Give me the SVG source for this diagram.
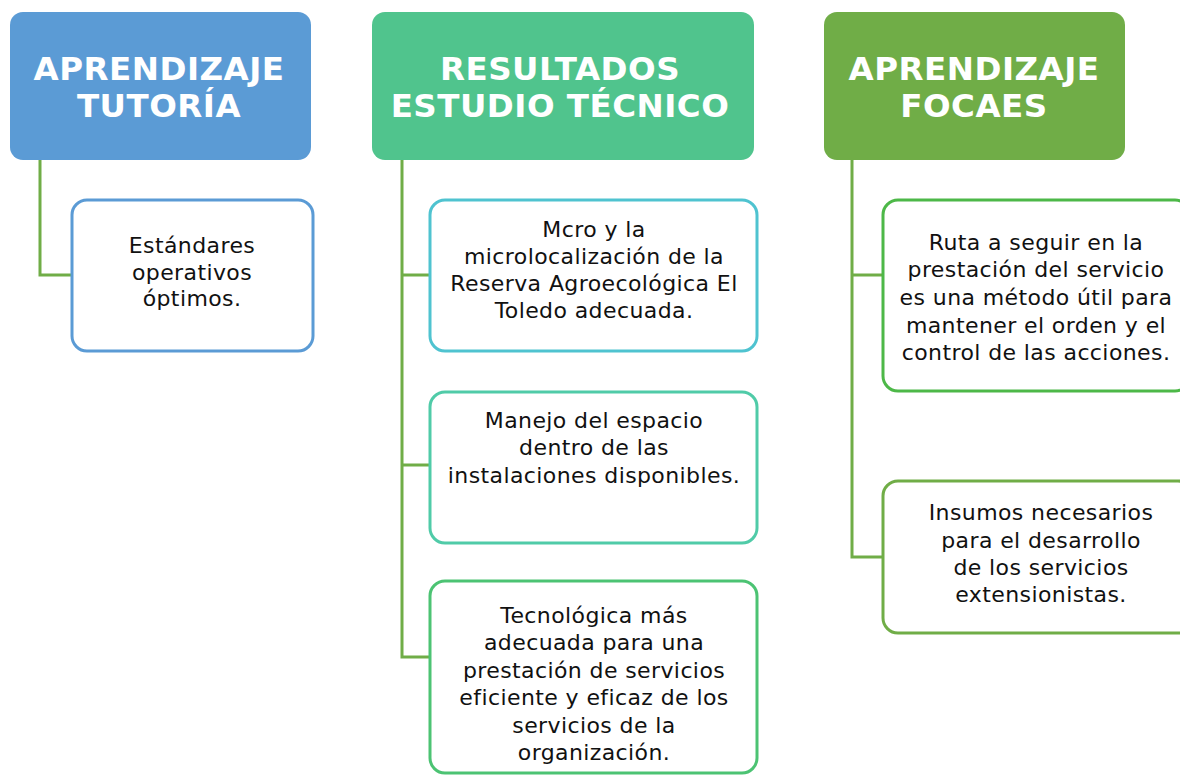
<svg xmlns="http://www.w3.org/2000/svg" width="1180" height="775" viewBox="0 0 1180 775">
<style>
.hdr{stroke:none}
.hdr-t{font-family:"DejaVu Sans","Liberation Sans",sans-serif;font-weight:bold;font-size:32.5px;letter-spacing:0.5px;fill:#fff;text-anchor:middle}
.box{fill:#fff;stroke-width:3}
.t{font-family:"DejaVu Sans","Liberation Sans",sans-serif;font-size:22px;letter-spacing:0.4px;fill:#111;text-anchor:middle}
.conn{fill:none;stroke:#70AD47;stroke-width:3}
</style>
<rect width="1180" height="775" fill="#fff"/>
<g id="connectors">
<path class="conn" d="M40 160 V275 H72"/>
<path class="conn" d="M402 160 V657 H430 M402 275 H430 M402 465 H430"/>
<path class="conn" d="M852 160 V557 H883 M852 275 H883"/>
</g>
<g id="h1">
<rect class="hdr" x="10" y="12" width="301" height="148" rx="13" fill="#5B9BD5"/>
<text class="hdr-t" x="159" y="80">APRENDIZAJE</text>
<text class="hdr-t" x="159" y="117">TUTORÍA</text>
</g>
<g id="h2">
<rect class="hdr" x="372" y="12" width="382" height="148" rx="13" fill="#50C48D"/>
<text class="hdr-t" x="560" y="80">RESULTADOS</text>
<text class="hdr-t" x="560" y="117">ESTUDIO TÉCNICO</text>
</g>
<g id="h3">
<rect class="hdr" x="824" y="12" width="301" height="148" rx="13" fill="#70AD47"/>
<text class="hdr-t" x="974" y="80">APRENDIZAJE</text>
<text class="hdr-t" x="974" y="117">FOCAES</text>
</g>
<g id="b1">
<rect class="box" x="72" y="200" width="241" height="151" rx="15" stroke="#5B9BD5"/>
<text class="t" x="192" y="253">Estándares</text>
<text class="t" x="192" y="280">operativos</text>
<text class="t" x="192" y="306">óptimos.</text>
</g>
<g id="b2a">
<rect class="box" x="430" y="200" width="327" height="151" rx="15" stroke="#4FC3D0"/>
<text class="t" x="594" y="237">Mcro y la</text>
<text class="t" x="594" y="264">microlocalización de la</text>
<text class="t" x="594" y="291">Reserva Agroecológica El</text>
<text class="t" x="594" y="318">Toledo adecuada.</text>
</g>
<g id="b2b">
<rect class="box" x="430" y="392" width="327" height="151" rx="15" stroke="#50CBA8"/>
<text class="t" x="594" y="428">Manejo del espacio</text>
<text class="t" x="594" y="455">dentro de las</text>
<text class="t" x="594" y="483">instalaciones disponibles.</text>
</g>
<g id="b2c">
<rect class="box" x="430" y="581" width="327" height="192" rx="15" stroke="#4CC373"/>
<text class="t" x="594" y="623">Tecnológica más</text>
<text class="t" x="594" y="650">adecuada para una</text>
<text class="t" x="594" y="678">prestación de servicios</text>
<text class="t" x="594" y="705">eficiente y eficaz de los</text>
<text class="t" x="594" y="733">servicios de la</text>
<text class="t" x="594" y="760">organización.</text>
</g>
<g id="b3a">
<rect class="box" x="883" y="200" width="307" height="191" rx="15" stroke="#4DB848"/>
<text class="t" x="1036" y="250">Ruta a seguir en la</text>
<text class="t" x="1036" y="277">prestación del servicio</text>
<text class="t" x="1036" y="305">es una método útil para</text>
<text class="t" x="1036" y="333">mantener el orden y el</text>
<text class="t" x="1036" y="360">control de las acciones.</text>
</g>
<g id="b3b">
<rect class="box" x="883" y="481" width="310" height="152" rx="15" stroke="#70AD47"/>
<text class="t" x="1041" y="520">Insumos necesarios</text>
<text class="t" x="1041" y="548">para el desarrollo</text>
<text class="t" x="1041" y="575">de los servicios</text>
<text class="t" x="1041" y="602">extensionistas.</text>
</g>
</svg>
